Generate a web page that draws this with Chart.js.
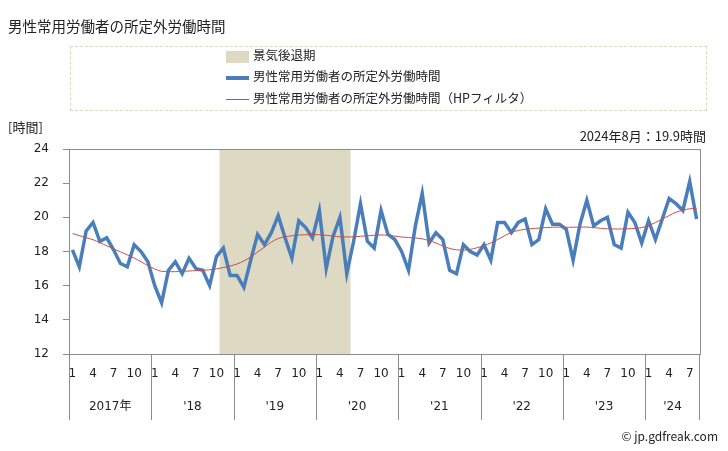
<!DOCTYPE html>
<html>
<head>
<meta charset="utf-8">
<script src="https://cdn.jsdelivr.net/npm/chart.js@4"></script>
<style>
  body { margin: 0; background: #fff; font-family: "Noto Sans CJK JP", sans-serif; color: #222; }
  #wrap { position: relative; width: 728px; height: 451px; overflow: hidden; }
  #chart { position: absolute; left: 0; top: 0; }
  .txt { position: absolute; white-space: nowrap; }
  #legend { position: absolute; left: 70px; top: 46px; width: 635px; height: 63px; border: 1px dashed #dcd7be; }
  .item { position: absolute; left: 155px; font-size: 12.5px; line-height: 16px; }
  .sw { display: inline-block; vertical-align: middle; margin-right: 4px; width: 23px; }
</style>
</head>
<body>
<div id="wrap">
  <canvas id="chart" width="728" height="451"></canvas>
  <div class="txt" style="left:8px; top:15px; font-size:14.5px;">男性常用労働者の所定外労働時間</div>
  <div id="legend">
    <div class="item" style="top:0px;"><span class="sw" style="height:12px; background:#ddd9c3;"></span>景気後退期</div>
    <div class="item" style="top:21px;"><span class="sw" style="height:4px; background:#4a7ebb;"></span>男性常用労働者の所定外労働時間</div>
    <div class="item" style="top:43px;"><span class="sw" style="height:1px; background:#c0504d;"></span>男性常用労働者の所定外労働時間（HPフィルタ）</div>
  </div>
  <div class="txt" style="left:8px; top:117px; font-size:13px;">[時間]</div>
  <div class="txt" style="right:22px; top:126px; font-size:13px;">2024年8月：19.9時間</div>
  <div class="txt" style="right:10px; top:427px; font-size:12px;">© jp.gdfreak.com</div>
</div>
<script>
// monthly data, Jan 2017 - Aug 2024
const years = ["2017年", "'18", "'19", "'20", "'21", "'22", "'23", "'24"];
const monthsPerYear = [12, 12, 12, 12, 12, 12, 12, 8];
const recessionStart = 22;  // 2018-11
const recessionEnd = 40;    // 2020-05

const hours = [
  18.1, 17.1, 19.2, 19.7, 18.6, 18.8, 18.1, 17.3, 17.1, 18.4, 18.0, 17.4,
  16.0, 15.0, 16.9, 17.4, 16.7, 17.6, 17.0, 16.9, 16.0, 17.7, 18.2, 16.6,
  16.6, 15.9, 17.5, 19.0, 18.4, 19.1, 20.1, 18.8, 17.6, 19.8, 19.4, 18.8,
  20.4, 17.0, 18.9, 20.0, 16.7, 18.6, 20.8, 18.6, 18.2, 20.4, 19.0, 18.7,
  18.0, 16.9, 19.5, 21.4, 18.5, 19.1, 18.7, 16.9, 16.7, 18.4, 18.0, 17.8,
  18.4, 17.5, 19.7, 19.7, 19.1, 19.7, 19.9, 18.4, 18.7, 20.5, 19.6, 19.6,
  19.3, 17.5, 19.6, 21.0, 19.5, 19.8, 20.0, 18.4, 18.2, 20.3, 19.7, 18.5,
  19.8, 18.7, 19.9, 21.1, 20.8, 20.4, 22.1, 19.9
];

const hoursHP = [
  19.05, 18.93, 18.81, 18.69, 18.52, 18.34, 18.16, 17.98, 17.80, 17.62, 17.40, 17.18,
  16.98, 16.84, 16.82, 16.82, 16.84, 16.86, 16.88, 16.90, 16.93, 16.99, 17.06, 17.15,
  17.27, 17.45, 17.68, 17.97, 18.26, 18.55, 18.76, 18.86, 18.92, 18.96, 18.98, 18.99,
  18.98, 18.95, 18.90, 18.86, 18.85, 18.86, 18.89, 18.92, 18.95, 18.97, 18.95, 18.90,
  18.85, 18.82, 18.79, 18.74, 18.64, 18.50, 18.32, 18.18, 18.10, 18.08, 18.12, 18.22,
  18.35, 18.50, 18.70, 18.92, 19.12, 19.23, 19.30, 19.34, 19.37, 19.40, 19.42, 19.43,
  19.42, 19.42, 19.43, 19.43, 19.40, 19.36, 19.33, 19.32, 19.32, 19.33, 19.35, 19.40,
  19.52, 19.70, 19.90, 20.10, 20.30, 20.42, 20.50, 20.52
];

const yTicks = [12, 14, 16, 18, 20, 22, 24];

// month number labels
let labels = [];
monthsPerYear.forEach(n => { for (let m = 1; m <= n; m++) labels.push(m); });

const recession = labels.map((_, i) => (i >= recessionStart && i <= recessionEnd) ? [yTicks[0], yTicks[yTicks.length - 1]] : null);

const numFont = { family: 'DejaVu Sans', size: 12 };

const frame = {
  id: 'frame',
  afterDraw(chart) {
    const ctx = chart.ctx;
    const a = chart.chartArea;
    const x = chart.scales.x;
    const step = x.getPixelForValue(1) - x.getPixelForValue(0);
    ctx.save();
    ctx.strokeStyle = '#8c8c8c';
    ctx.lineWidth = 1;
    ctx.strokeRect(a.left + 0.5, a.top + 0.5, a.right - a.left, a.bottom - a.top);
    // year separators and labels
    let idx = 0;
    ctx.fillStyle = '#222';
    ctx.textAlign = 'center';
    ctx.textBaseline = 'middle';
    ctx.font = '12px "DejaVu Sans", "Noto Sans CJK JP"';
    years.forEach((yr, k) => {
      const x0 = x.getPixelForValue(idx) - step / 2;
      const x1 = x.getPixelForValue(idx + monthsPerYear[k] - 1) + step / 2;
      ctx.beginPath();
      ctx.moveTo(Math.round(x0) + 0.5, a.bottom);
      ctx.lineTo(Math.round(x0) + 0.5, 420);
      ctx.stroke();
      ctx.fillText(yr, (x0 + x1) / 2, 407);
      idx += monthsPerYear[k];
      if (k === years.length - 1) {
        ctx.beginPath();
        ctx.moveTo(Math.round(x1) - 0.5, a.bottom);
        ctx.lineTo(Math.round(x1) - 0.5, 420);
        ctx.stroke();
      }
    });
    ctx.restore();
  }
};

new Chart(document.getElementById('chart'), {
  type: 'bar',
  data: {
    labels,
    datasets: [
      {
        type: 'line',
        label: '男性常用労働者の所定外労働時間（HPフィルタ）',
        data: hoursHP,
        borderColor: '#c0504d',
        borderWidth: 1,
        pointRadius: 0,
        tension: 0.3,
        order: 1
      },
      {
        type: 'line',
        label: '男性常用労働者の所定外労働時間',
        data: hours,
        borderColor: '#4a7ebb',
        borderWidth: 3.5,
        pointRadius: 0,
        tension: 0,
        order: 2
      },
      {
        type: 'bar',
        label: '景気後退期',
        data: recession,
        backgroundColor: '#ddd9c3',
        borderWidth: 0,
        barPercentage: 1,
        categoryPercentage: 1,
        order: 3
      }
    ]
  },
  options: {
    responsive: false,
    animation: false,
    layout: { padding: { top: 149, right: 28, left: 0, bottom: 0 } },
    plugins: { legend: { display: false }, tooltip: { enabled: false } },
    scales: {
      x: {
        offset: true,
        grid: { display: false, drawTicks: false },
        border: { display: false },
        ticks: {
          autoSkip: false,
          maxRotation: 0,
          padding: 13,
          color: '#222',
          font: numFont,
          callback: (v, i) => [1, 4, 7, 10].includes(labels[i]) ? String(labels[i]) : ''
        },
        afterFit: s => { s.height = 97; }
      },
      y: {
        min: 12,
        max: 24,
        afterBuildTicks: s => { s.ticks = yTicks.map(v => ({ value: v })); },
        grid: { drawOnChartArea: false, drawTicks: true, tickLength: 6, color: '#8c8c8c' },
        border: { display: false },
        ticks: { padding: 14, color: '#222', font: numFont },
        afterFit: s => { s.width = 69; }
      }
    }
  },
  plugins: [frame]
});
</script>
</body>
</html>
